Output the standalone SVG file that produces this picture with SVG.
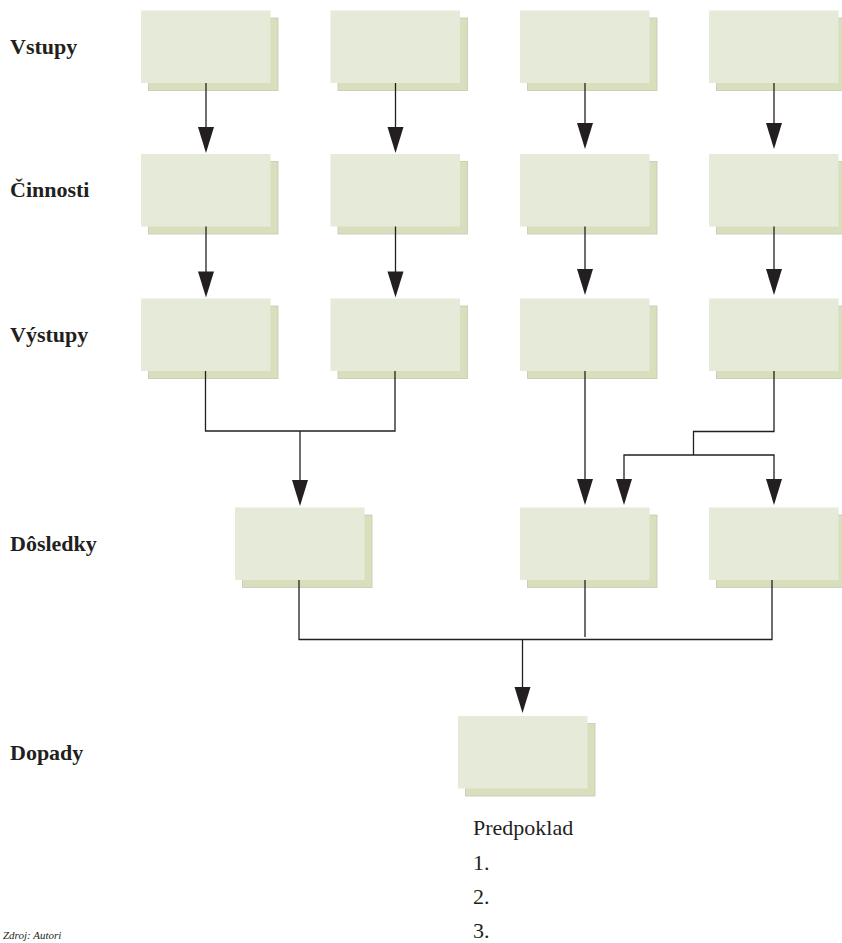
<svg xmlns="http://www.w3.org/2000/svg" width="842" height="943" viewBox="0 0 842 943">
  <style>
    .shadow { fill: #d9dfbd; stroke: #c4c7b2; stroke-width: 0.8; }
    .front { fill: #e6ead9; }
    .label { font-family: "Liberation Serif", "Times New Roman", serif; font-size: 22px; font-weight: bold; fill: #231f20; }
    .note { font-family: "Liberation Serif", "Times New Roman", serif; font-size: 22px; fill: #231f20; }
    .src { font-family: "Liberation Serif", "Times New Roman", serif; font-size: 11px; font-style: italic; fill: #231f20; }
    .wire { fill: none; stroke: #231f20; stroke-width: 1.3; }
    .head { fill: #231f20; }
  </style>
  <defs>
    <!-- box with offset shadow; top-left corner at origin -->
    <g id="box">
      <rect class="shadow" x="7.5" y="7.5" width="129.5" height="72.5"/>
      <rect class="front" x="0" y="0" width="129.5" height="72.5"/>
    </g>
    <!-- arrowhead, tip at origin pointing down -->
    <path id="tip" class="head" d="M-8,-26 L8,-26 L0,0 Z"/>
  </defs>

  <rect width="842" height="943" fill="#ffffff"/>

  <!-- row labels -->
  <g id="labels">
    <text class="label" x="10" y="54">Vstupy</text>
    <text class="label" x="10" y="197">Činnosti</text>
    <text class="label" x="10" y="342">Výstupy</text>
    <text class="label" x="10" y="551">Dôsledky</text>
    <text class="label" x="10" y="760">Dopady</text>
  </g>

  <!-- Vstupy -->
  <g id="vstup-1"><use href="#box" x="141" y="10.5"/></g>
  <g id="vstup-2"><use href="#box" x="330.5" y="10.5"/></g>
  <g id="vstup-3"><use href="#box" x="520" y="10.5"/></g>
  <g id="vstup-4"><use href="#box" x="709" y="10.5"/></g>

  <!-- Cinnosti -->
  <g id="cinnost-1"><use href="#box" x="141" y="154"/></g>
  <g id="cinnost-2"><use href="#box" x="330.5" y="154"/></g>
  <g id="cinnost-3"><use href="#box" x="520" y="154"/></g>
  <g id="cinnost-4"><use href="#box" x="709" y="154"/></g>

  <!-- Vystupy -->
  <g id="vystup-1"><use href="#box" x="141" y="298.5"/></g>
  <g id="vystup-2"><use href="#box" x="330.5" y="298.5"/></g>
  <g id="vystup-3"><use href="#box" x="520" y="298.5"/></g>
  <g id="vystup-4"><use href="#box" x="709" y="298.5"/></g>

  <!-- Dosledky -->
  <g id="dosledok-1"><use href="#box" x="235" y="507.5"/></g>
  <g id="dosledok-2"><use href="#box" x="520" y="507.5"/></g>
  <g id="dosledok-3"><use href="#box" x="709" y="507.5"/></g>

  <!-- Dopady -->
  <g id="dopad"><use href="#box" x="458" y="716"/></g>

  <!-- connectors -->
  <g id="connectors">
    <!-- Vstupy to Cinnosti -->
    <path class="wire" d="M206,83 V130"/>
    <path class="wire" d="M395.5,83 V130"/>
    <path class="wire" d="M585,83 V126"/>
    <path class="wire" d="M774,83 V126"/>
    <use href="#tip" x="206" y="153"/>
    <use href="#tip" x="395.5" y="153"/>
    <use href="#tip" x="585" y="149"/>
    <use href="#tip" x="774" y="149"/>

    <!-- Cinnosti to Vystupy -->
    <path class="wire" d="M206,226.5 V275"/>
    <path class="wire" d="M395.5,226.5 V275"/>
    <path class="wire" d="M585,226.5 V272"/>
    <path class="wire" d="M774,226.5 V272"/>
    <use href="#tip" x="206" y="297.5"/>
    <use href="#tip" x="395.5" y="297.5"/>
    <use href="#tip" x="585" y="295"/>
    <use href="#tip" x="774" y="295"/>

    <!-- Vystupy to Dosledky -->
    <path class="wire" d="M205.5,371 V431 H395 V371"/>
    <path class="wire" d="M300,431 V482"/>
    <use href="#tip" x="300" y="506"/>
    <path class="wire" d="M585,371 V482"/>
    <use href="#tip" x="585" y="505"/>
    <path class="wire" d="M774,371 V431.5 H693.5 V455"/>
    <path class="wire" d="M624,482 V455 H774 V482"/>
    <use href="#tip" x="624" y="505"/>
    <use href="#tip" x="774" y="505"/>

    <!-- Dosledky to Dopady -->
    <path class="wire" d="M299,580 V639.5 H772 V580"/>
    <path class="wire" d="M585,580 V637"/>
    <path class="wire" d="M522.5,639.5 V690"/>
    <use href="#tip" x="522.5" y="713"/>
  </g>

  <!-- assumptions list -->
  <g id="predpoklad">
    <text class="note" x="473" y="835">Predpoklad</text>
    <text class="note" x="473" y="869.5">1.</text>
    <text class="note" x="473" y="903.5">2.</text>
    <text class="note" x="473" y="937.5">3.</text>
  </g>

  <text class="src" x="3" y="938.5">Zdroj: Autori</text>
</svg>
